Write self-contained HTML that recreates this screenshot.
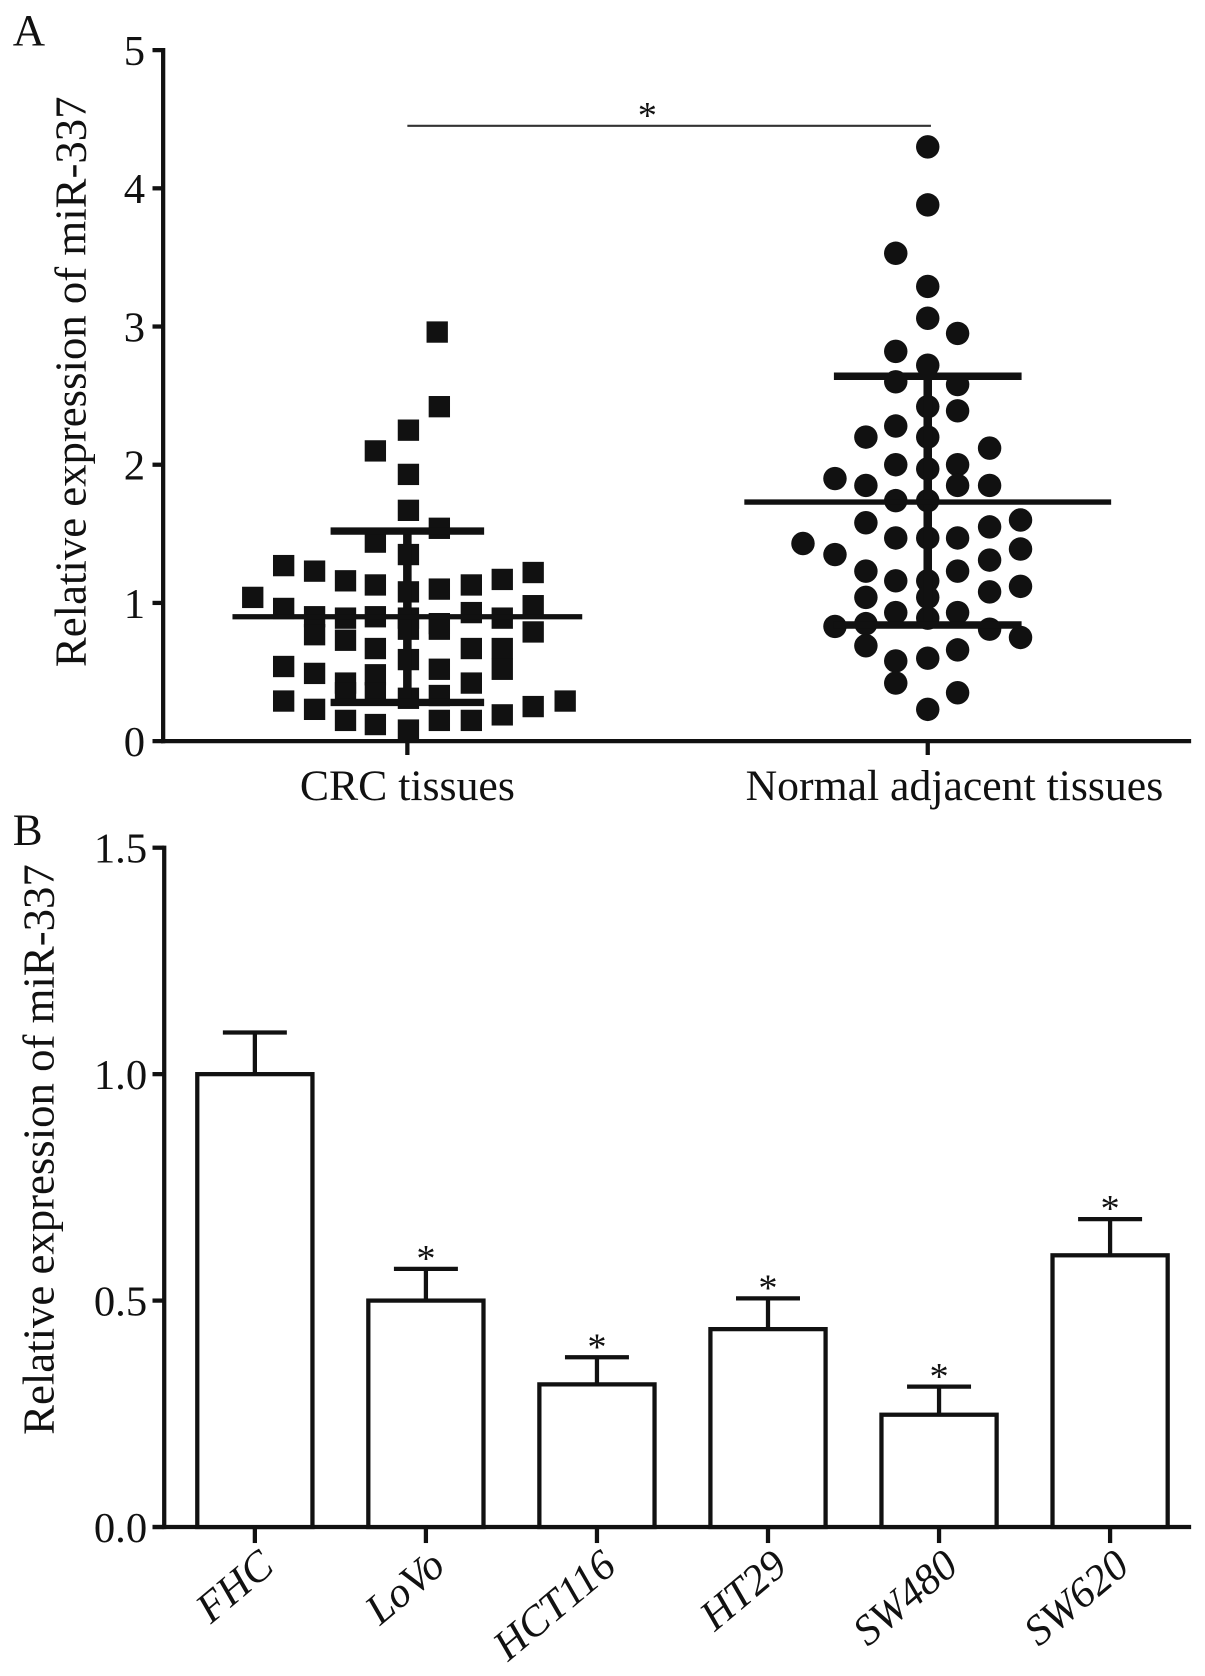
<!DOCTYPE html>
<html><head><meta charset="utf-8"><style>
html,body{margin:0;padding:0;background:#fff}
svg text{font-family:"Liberation Serif",serif;fill:#111}
</style></head><body>
<svg id="fig" width="1205" height="1671" viewBox="0 0 1130 1567" xmlns="http://www.w3.org/2000/svg">
<g id="A"></g>
<g id="B"></g>
</svg>
<script>
// Panel A data
const crcX=[410,412,383,352,383,383,412,352,383,237,266,295,324,352,383,412,442,471,500,266,295,324,352,383,412,442,471,500,295,324,352,383,412,442,471,500,266,295,324,352,383,412,442,471,266,295,324,352,383,412,442,471,500,530,324,352,383,412];
const crcVals=[2.96,2.42,2.25,2.1,1.93,1.67,1.54,1.44,1.35,1.04,1.27,1.23,1.16,1.13,1.08,1.1,1.13,1.17,1.22,0.96,0.9,0.89,0.9,0.89,0.85,0.93,0.89,0.98,0.77,0.73,0.67,0.81,0.81,0.67,0.67,0.79,0.54,0.49,0.42,0.48,0.59,0.52,0.42,0.52,0.29,0.23,0.15,0.12,0.08,0.15,0.15,0.19,0.25,0.29,0.35,0.35,0.31,0.33];
const norX=[870,870,840,870,870,898,840,870,840,898,870,898,840,870,812,840,898,928,870,783,812,840,870,898,928,812,840,870,898,928,957,753,783,812,840,870,898,928,957,812,870,928,957,840,870,898,812,783,928,957,812,840,870,898,840,898,870];
const norVals=[4.3,3.88,3.53,3.29,3.06,2.95,2.82,2.72,2.6,2.58,2.42,2.39,2.28,2.2,2.2,2.0,2.0,2.12,1.97,1.9,1.85,1.74,1.74,1.85,1.85,1.58,1.47,1.47,1.47,1.55,1.6,1.43,1.35,1.23,1.16,1.16,1.23,1.31,1.39,1.04,1.04,1.08,1.12,0.93,0.89,0.93,0.85,0.83,0.81,0.75,0.69,0.58,0.6,0.66,0.42,0.35,0.23];
const groupMean=[0.9,1.73];
const groupHi=[1.52,2.64];
const groupLo=[0.28,0.84];
const aTicks=[0,1,2,3,4,5];
// Panel B data
const cells=["FHC","LoVo","HCT116","HT29","SW480","SW620"];
const cellVals=[1.0,0.5,0.315,0.437,0.248,0.6];
const cellErr=[0.092,0.07,0.06,0.068,0.062,0.08];
const cellSig=[false,true,true,true,true,true];
const bTicks=["0.0","0.5","1.0","1.5"];

const NS="http://www.w3.org/2000/svg";
function mk(p,t,a,txt){const e=document.createElementNS(NS,t);for(const k in a)e.setAttribute(k,a[k]);if(txt!==undefined)e.textContent=txt;p.appendChild(e);return e;}
const A=document.getElementById('A'),B=document.getElementById('B');
const yA=v=>695-v*129.6;
const xA=[382,870];
let e;
e=mk(A,'text',{x:12,y:42,'font-size':42},'A');
e=mk(A,'line',{x1:153,y1:45,x2:153,y2:697,stroke:'#111','stroke-width':4});
e=mk(A,'line',{x1:151,y1:695,x2:1117,y2:695,stroke:'#111','stroke-width':4});
aTicks.forEach(t=>{
 e=mk(A,'line',{x1:143,y1:yA(t),x2:153,y2:yA(t),stroke:'#111','stroke-width':4});
 e=mk(A,'text',{x:136,y:yA(t)+14,'font-size':40,'text-anchor':'end'},String(t));
});
e=mk(A,'text',{x:0,y:0,'font-size':42,'text-anchor':'middle',transform:'translate(80,358) rotate(-90)'},'Relative expression of miR-337');
xA.forEach(x=>{e=mk(A,'line',{x1:x,y1:695,x2:x,y2:708,stroke:'#111','stroke-width':4});});
e=mk(A,'text',{x:382,y:750,'font-size':41,'text-anchor':'middle'},'CRC tissues');
e=mk(A,'text',{x:895,y:750,'font-size':41,'text-anchor':'middle'},'Normal adjacent tissues');
e=mk(A,'line',{x1:382,y1:118,x2:873,y2:118,stroke:'#333','stroke-width':2});
e=mk(A,'text',{x:607,y:120,'font-size':36,'text-anchor':'middle'},'*');
crcVals.forEach((v,i)=>{e=mk(A,'rect',{x:crcX[i]-10,y:yA(v)-10,width:20,height:20,fill:'#111'});});
norVals.forEach((v,i)=>{e=mk(A,'circle',{cx:norX[i],cy:yA(v),r:11,fill:'#111'});});
const meanHalf=[164,172],sdHalf=[72,88];
groupMean.forEach((m,i)=>{const x=xA[i];
 e=mk(A,'line',{x1:x,y1:yA(groupHi[i]),x2:x,y2:yA(groupLo[i]),stroke:'#111','stroke-width':8});
 e=mk(A,'line',{x1:x-meanHalf[i],y1:yA(m),x2:x+meanHalf[i],y2:yA(m),stroke:'#111','stroke-width':5});
 e=mk(A,'line',{x1:x-sdHalf[i],y1:yA(groupHi[i]),x2:x+sdHalf[i],y2:yA(groupHi[i]),stroke:'#111','stroke-width':7});
 e=mk(A,'line',{x1:x-sdHalf[i],y1:yA(groupLo[i]),x2:x+sdHalf[i],y2:yA(groupLo[i]),stroke:'#111','stroke-width':7});
});
// Panel B
const yB=v=>1432-v*424.7;
const xB=i=>239+i*160.4;
e=mk(B,'text',{x:12,y:792,'font-size':42},'B');
e=mk(B,'line',{x1:154,y1:793,x2:154,y2:1434,stroke:'#111','stroke-width':4});
e=mk(B,'line',{x1:143,y1:1432,x2:1117,y2:1432,stroke:'#111','stroke-width':4});
bTicks.forEach(t=>{const y=yB(parseFloat(t));
 e=mk(B,'line',{x1:143,y1:y,x2:154,y2:y,stroke:'#111','stroke-width':4});
 e=mk(B,'text',{x:138,y:y+14,'font-size':40,'text-anchor':'end'},t);
});
e=mk(B,'text',{x:0,y:0,'font-size':42,'text-anchor':'middle',transform:'translate(50,1078) rotate(-90)'},'Relative expression of miR-337');
cells.forEach((c,i)=>{const x=xB(i),v=cellVals[i],top=v+cellErr[i];
 e=mk(B,'line',{x1:x,y1:yB(v),x2:x,y2:yB(top),stroke:'#111','stroke-width':4});
 e=mk(B,'line',{x1:x-30,y1:yB(top),x2:x+30,y2:yB(top),stroke:'#111','stroke-width':4});
 e=mk(B,'rect',{x:x-54,y:yB(v),width:108,height:1432-yB(v),fill:'#fff',stroke:'#111','stroke-width':4});
 if(cellSig[i]){e=mk(B,'text',{x:x,y:yB(top)+2,'font-size':36,'text-anchor':'middle'},'*');}
 e=mk(B,'line',{x1:x,y1:1432,x2:x,y2:1447,stroke:'#111','stroke-width':4});
 e=mk(B,'text',{x:0,y:0,'font-size':40,'font-style':'italic','text-anchor':'end',transform:'translate('+(x+20)+',1472) rotate(-40)'},c);
});
</script>
</body></html>
